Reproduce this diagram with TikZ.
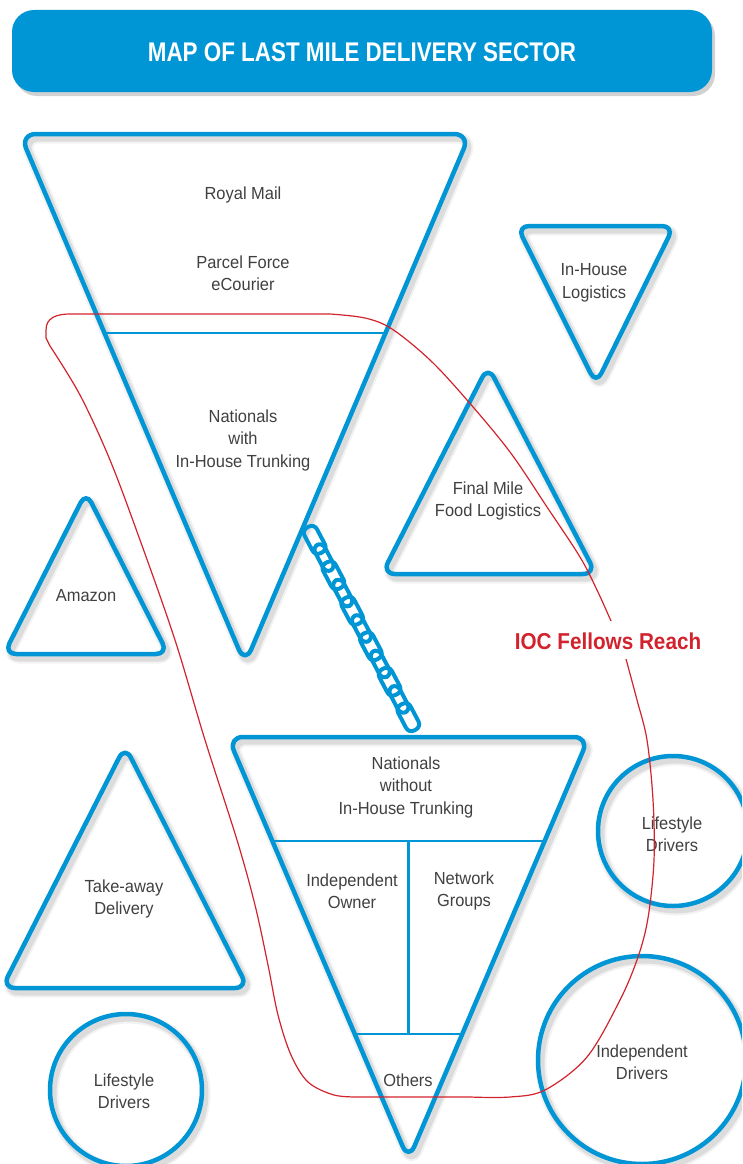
\documentclass[tikz,border=0pt]{standalone}
\usepackage{fontspec}
\setmainfont{Liberation Sans}[FakeStretch=0.94]
\newfontfamily\titlefont{Liberation Sans}[FakeStretch=0.83]
\newfontfamily\reachfont{Liberation Sans}[FakeStretch=0.9]
\usetikzlibrary{calc,shadows}
\definecolor{iocblue}{RGB}{0,150,214}
\definecolor{iocred}{RGB}{210,35,45}
\definecolor{txtgray}{RGB}{64,64,64}
\begin{document}
\begin{tikzpicture}[x=1pt,y=-1pt,
  softshadow/.style={
    preaction={draw=black,draw opacity=.05,line width=11pt,line join=round,transform canvas={xshift=3pt,yshift=-4pt}},
    preaction={draw=black,draw opacity=.09,line width=7pt,line join=round,transform canvas={xshift=3pt,yshift=-4pt}}},
  blueshape/.style={softshadow, draw=iocblue, line width=4.5pt, line join=round},
  divider/.style={draw=iocblue, line width=2.2pt},
  txt/.style={font=\fontsize{17.5}{22.5}\selectfont, text=txtgray, align=center, inner sep=1pt},
  chainlink/.style={draw=iocblue, line width=4pt, rounded corners=6pt, minimum width=29pt, rotate=-62.2, inner sep=0pt},
  redline/.style={draw=iocred, line width=1.2pt}
]
\useasboundingbox (0,0) rectangle (742,1164);
\clip (0,0) rectangle (742,1164);

% header
\fill[iocblue, rounded corners=22pt, drop shadow={shadow xshift=3pt, shadow yshift=-4pt, opacity=.3, fill=black!60}] (12,10) rectangle (712,92);
\node[font=\titlefont\bfseries\fontsize{27}{30}\selectfont, text=white] (title) at (362,52) {MAP OF LAST MILE DELIVERY SECTOR};

% big top inverted triangle
\draw[blueshape, rounded corners=16pt] (20,134) -- (470,134) -- (245,664) -- cycle;
\draw[divider] (104,333) -- (386,333);
\node[txt] (royal) at (243,195) {Royal Mail};
\node[txt] (parcel) at (243,273) {Parcel Force\\eCourier};
\node[txt] (natwith) at (243,440) {Nationals\\with\\In-House Trunking};

% in-house logistics
\draw[blueshape, rounded corners=12pt] (517,226) -- (674,226) -- (596,384) -- cycle;
\node[txt] (inhouse) at (594,283) {In-House\\Logistics};

% final mile food logistics
\draw[blueshape, rounded corners=13pt] (488,366) -- (596,574) -- (382,574) -- cycle;
\node[txt] (finalmile) at (488,501) {Final Mile\\Food Logistics};

% amazon
\draw[blueshape, rounded corners=12pt] (86,492) -- (168,654) -- (4,654) -- cycle;
\node[txt] (amazon) at (86,596) {Amazon};

% take-away
\draw[blueshape, rounded corners=13pt] (125,746) -- (248,988) -- (2,988) -- cycle;
\node[txt] (takeaway) at (124,899) {Take-away\\Delivery};

% bottom inverted triangle
\draw[blueshape, rounded corners=15pt] (228,737) -- (589,737) -- (408.5,1160) -- cycle;
\draw[divider] (272,841) -- (545,841);
\draw[divider] (408.5,841) -- (408.5,1034);
\draw[divider] (355,1034) -- (462,1034);
\node[txt] (natwithout) at (406,787) {Nationals\\without\\In-House Trunking};
\node[txt] (indep) at (352,891) {Independent\\Owner};
\node[txt] (network) at (464,891) {Network\\Groups};
\node[txt] (others) at (408,1080) {Others};

% circles
\draw[blueshape] (673,831) circle[radius=75pt];
\node[txt] (lifeR) at (672,834) {Lifestyle\\Drivers};
\draw[blueshape] (642,1060) circle[radius=104pt];
\node[txt] (indepdrv) at (642,1062) {Independent\\Drivers};
\draw[blueshape] (126,1090) circle[radius=76pt];
\node[txt] (lifeL) at (124,1091) {Lifestyle\\Drivers};

% chain
\coordinate (chainA) at (310,531);
\coordinate (chainB) at (413,726);
\foreach \i in {0,...,10} {
  \pgfmathsetmacro{\h}{ifthenelse(mod(\i,2)==0,14,11)}
  \node[chainlink, minimum height=\h pt] (link\i) at ($(chainA)!{(\i+0.5)/11}!(chainB)$) {};
}

% IOC reach curve
\draw[redline] plot[smooth, tension=.55] coordinates {(626,659) (637,700) (647,740) (653,800) (654,860) (648,918) (638,957) (620,1000) (587,1057) (545,1090) (510,1097) (470,1097)}
  -- (360,1097)
  -- plot[smooth, tension=.55] coordinates {(360,1097) (334,1095) (308,1082) (291,1055) (278,1015) (268,965) (255,905) (237,840) (205,740) (175,640) (140,540) (110,460) (80,395) (50,346)}
  -- (46,338) -- (46,330) .. controls (46,318) and (56,314) .. (70,314) -- (330,314)
  -- plot[smooth, tension=.55] coordinates {(330,314) (365,318) (392,329) (430,360) (467,400) (510,452) (547,507) (580,557) (597,590) (611,621)};
\node[font=\reachfont\bfseries\fontsize{23}{26}\selectfont, text=iocred, fill=white, inner xsep=2pt, inner ysep=9pt] (reach) at (608,641) {IOC Fellows Reach};
\end{tikzpicture}
\end{document}
